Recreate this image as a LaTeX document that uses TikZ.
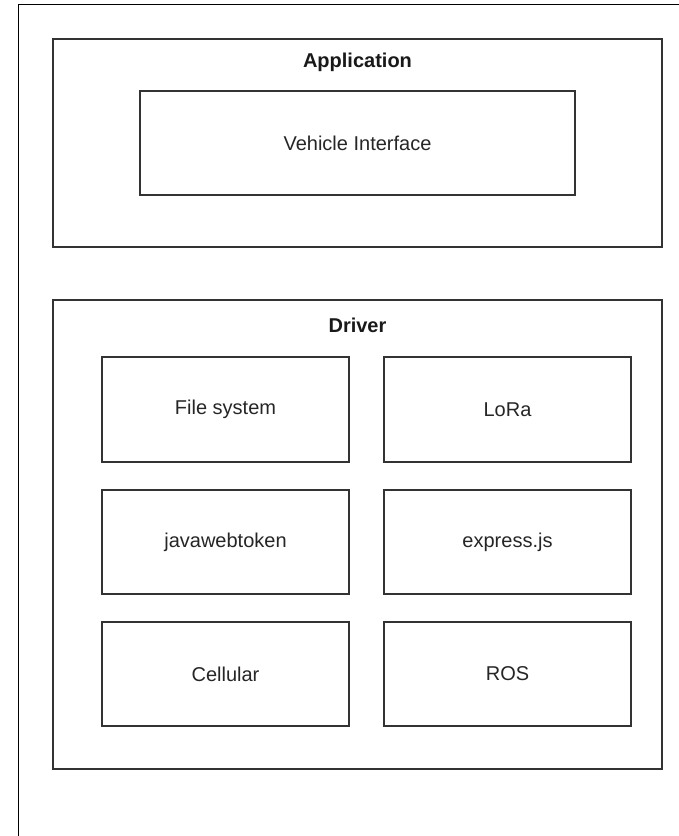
\documentclass[tikz,border=0pt]{standalone}
\usepackage{fontspec}
\setmainfont{Liberation Sans}
\begin{document}
\begin{tikzpicture}[x=1pt,y=-1pt,
  box/.style={draw=black!80, line width=1.3pt, fill=white},
  lbl/.style={font=\fontsize{20}{24}\selectfont, text=black!85},
  ttl/.style={font=\fontsize{20}{24}\selectfont\bfseries, text=black!90}]
\useasboundingbox (0,0) rectangle (679,836);
\fill[white] (0,0) rectangle (679,836);
% outer frame (partially visible)
\draw[black, line width=1.3pt] (18.5,840) -- (18.5,4.5) -- (682,4.5);
% Application
\draw[box] (53,39) rectangle (662,247);
\node[ttl] (app) at (357.5,62) {Application};
\draw[box] (140,91) rectangle (575,195);
\node[lbl] (vi) at (357.5,143) {Vehicle Interface};
% Driver
\draw[box] (53,300) rectangle (662,769);
\node[ttl] (drv) at (357.5,325) {Driver};
\draw[box] (102,357) rectangle (349,462);
\node[lbl] (fs) at (225.5,409.5) {File system};
\draw[box] (384,357) rectangle (631,462);
\node[lbl] (lora) at (507.5,409.5) {LoRa};
\draw[box] (102,490) rectangle (349,594);
\node[lbl] (jwt) at (225.5,542) {javawebtoken};
\draw[box] (384,490) rectangle (631,594);
\node[lbl] (ex) at (507.5,542) {express.js};
\draw[box] (102,622) rectangle (349,726);
\node[lbl] (cell) at (225.5,674) {Cellular};
\draw[box] (384,622) rectangle (631,726);
\node[lbl] (ros) at (507.5,674) {ROS};
\end{tikzpicture}
\end{document}
